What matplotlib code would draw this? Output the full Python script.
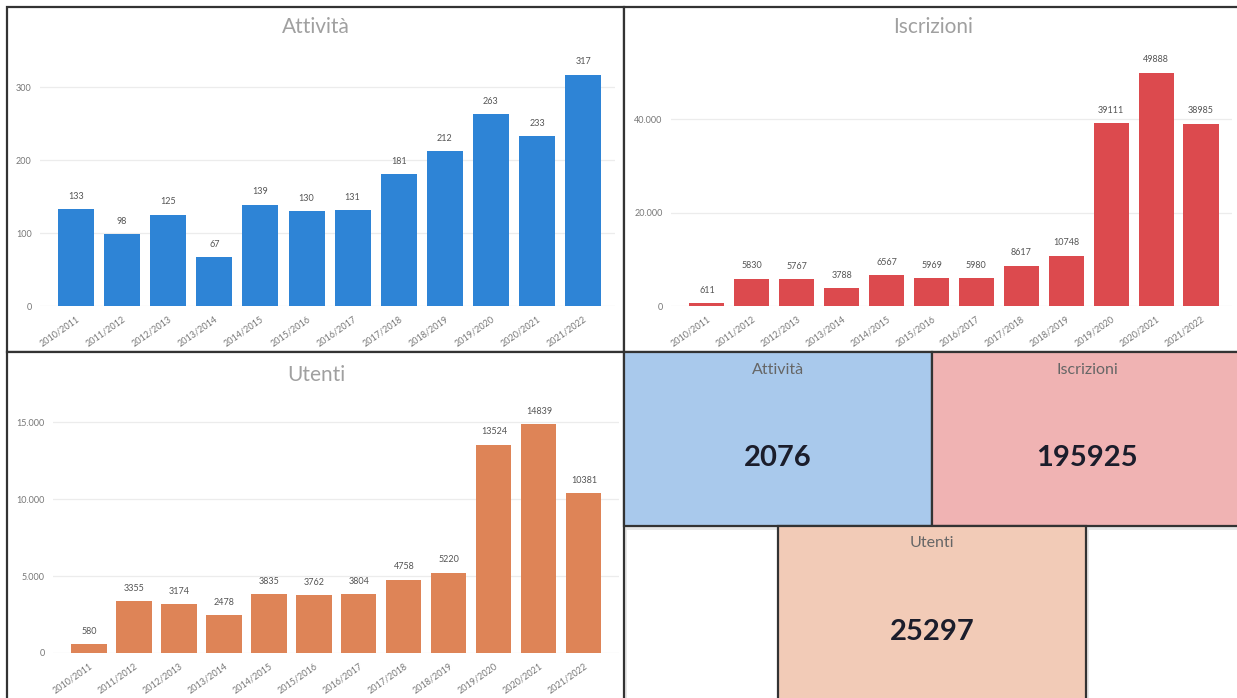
import numpy as np
import matplotlib.pyplot as plt
from matplotlib.patches import Rectangle
from matplotlib.ticker import FuncFormatter

# data
anni = ['2010/2011', '2011/2012', '2012/2013', '2013/2014', '2014/2015', '2015/2016',
        '2016/2017', '2017/2018', '2018/2019', '2019/2020', '2020/2021', '2021/2022']
attivita = [133, 98, 125, 67, 139, 130, 131, 181, 212, 263, 233, 317]
iscrizioni = [611, 5830, 5767, 3788, 6567, 5969, 5980, 8617, 10748, 39111, 49888, 38985]
utenti = [580, 3355, 3174, 2478, 3835, 3762, 3804, 4758, 5220, 13524, 14839, 10381]

kpi_titoli = ['Attività', 'Iscrizioni', 'Utenti']
kpi_valori = [2076, 195925, 25297]

W, H = 1237, 698
plt.rcParams['font.family'] = ['Lato', 'DejaVu Sans']

fig = plt.figure(figsize=(W / 100, H / 100), dpi=100)
fig.patch.set_facecolor('white')


def box(x0, y0, x1, y1):
    # pixel box -> figure fraction [left, bottom, width, height]
    return [x0 / W, 1 - y1 / H, (x1 - x0) / W, (y1 - y0) / H]


def frame(x0, y0, x1, y1, fc='white', z=0):
    b = box(x0, y0, x1, y1)
    # soft shadow
    fig.patches.append(Rectangle((b[0] + 3 / W, b[1] - 4 / H), b[2], b[3],
                                 transform=fig.transFigure, fc='#d8d8d8', ec='none',
                                 alpha=0.6, zorder=z))
    fig.patches.append(Rectangle((b[0], b[1]), b[2], b[3], transform=fig.transFigure,
                                 fc=fc, ec='#333333', lw=1.6, zorder=z + 0.1))


def ita(v, pos):
    return f'{int(v):,}'.replace(',', '.')


def bar_panel(rect, xlim, valori, colore, ymax, yticks, titolo, title_xy):
    ax = fig.add_axes(box(*rect))
    ax.set_zorder(3)
    ax.set_facecolor('none')
    x = np.arange(len(anni))
    ax.bar(x, valori, width=0.78, color=colore, zorder=2)
    for xi, v in zip(x, valori):
        ax.annotate(str(v), (xi, v), xytext=(0, 6), textcoords='offset points',
                    ha='center', va='bottom', fontsize=6.5, color='#555555')
    ax.set_ylim(0, ymax)
    ax.set_xlim(*xlim)
    ax.set_yticks(yticks)
    ax.yaxis.set_major_formatter(FuncFormatter(ita))
    ax.grid(axis='y', color='#ececec', lw=0.9, zorder=0)
    ax.set_xticks(x)
    ax.set_xticklabels(anni, rotation=35, ha='right', rotation_mode='anchor')
    ax.tick_params(length=0, labelsize=6.5, labelcolor='#777777', pad=6)
    for s in ax.spines.values():
        s.set_visible(False)
    fig.text(title_xy[0] / W, 1 - title_xy[1] / H, titolo, ha='center', va='center',
             fontsize=15, color='#a0a0a0', zorder=5)
    return ax


# panel frames
frame(7, 7, 624, 352)
frame(624, 7, 1250, 352)
frame(7, 352, 624, 720)

bar_panel((40, 55, 615, 306), (-0.78, 11.69), attivita, '#2e84d6', 344,
          [0, 100, 200, 300], 'Attività', (316, 27))
bar_panel((671, 55, 1232, 306), (-0.80, 11.69), iscrizioni, '#dc4a4e', 53690,
          [0, 20000, 40000], 'Iscrizioni', (933, 27))
bar_panel((53, 400, 619, 653), (-0.80, 11.78), utenti, '#de8457', 16430,
          [0, 5000, 10000, 15000], 'Utenti', (316, 375))

# KPI cards
kpi_box = [(624, 352, 932, 526), (932, 352, 1250, 526), (778, 526, 1086, 720)]
kpi_fc = ['#a9c9ec', '#f0b3b3', '#f2cbb7']
kpi_lab = [(778, 370), (1087, 370), (932, 543)]
kpi_val = [(778, 458), (1087, 458), (932, 632)]
for i in range(3):
    frame(*kpi_box[i], fc=kpi_fc[i], z=1)
    fig.text(kpi_lab[i][0] / W, 1 - kpi_lab[i][1] / H, kpi_titoli[i], ha='center',
             va='center', fontsize=11.5, color='#666666', zorder=5)
    fig.text(kpi_val[i][0] / W, 1 - kpi_val[i][1] / H, str(kpi_valori[i]), ha='center',
             va='center', fontsize=21, fontweight='bold', color='#1b1d2b', zorder=5)

fig.savefig('out.png', dpi=100)
